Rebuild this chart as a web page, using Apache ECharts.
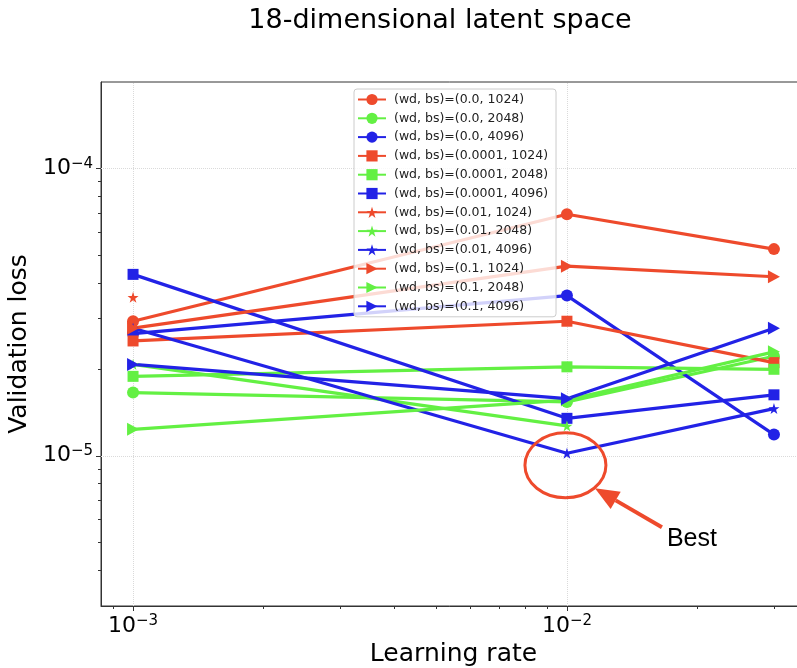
<!DOCTYPE html>
<html><head><meta charset="utf-8">
<script src="https://cdn.jsdelivr.net/npm/echarts@6/dist/echarts.min.js"></script>
<style>html,body{margin:0;padding:0;background:#fff}#c{width:797px;height:668px}</style>
</head><body><div id="c"></div>
<script>
// ---- data ----
const learningRates = [0.001, 0.01, 0.03];
const seriesNames = [
  '(wd, bs)=(0.0, 1024)', '(wd, bs)=(0.0, 2048)', '(wd, bs)=(0.0, 4096)',
  '(wd, bs)=(0.0001, 1024)', '(wd, bs)=(0.0001, 2048)', '(wd, bs)=(0.0001, 4096)',
  '(wd, bs)=(0.01, 1024)', '(wd, bs)=(0.01, 2048)', '(wd, bs)=(0.01, 4096)',
  '(wd, bs)=(0.1, 1024)', '(wd, bs)=(0.1, 2048)', '(wd, bs)=(0.1, 4096)'
];
const loss_wd0_bs1024    = [2.94e-5, 6.93e-5, 5.24e-5];
const loss_wd0_bs2048    = [1.66e-5, 1.54e-5, 2.22e-5];
const loss_wd0_bs4096    = [2.66e-5, 3.61e-5, 1.185e-5];
const loss_wd1e4_bs1024  = [2.51e-5, 2.94e-5, 2.11e-5];
const loss_wd1e4_bs2048  = [1.89e-5, 2.04e-5, 2.00e-5];
const loss_wd1e4_bs4096  = [4.28e-5, 1.35e-5, 1.63e-5];
const loss_wd1e2_bs1024  = [3.56e-5, null, null];
const loss_wd1e2_bs2048  = [2.08e-5, 1.27e-5, null];
const loss_wd1e2_bs4096  = [2.78e-5, 1.02e-5, 1.46e-5];
const loss_wd1e1_bs1024  = [2.78e-5, 4.57e-5, 4.20e-5];
const loss_wd1e1_bs2048  = [1.236e-5, 1.563e-5, 2.30e-5];
const loss_wd1e1_bs4096  = [2.08e-5, 1.58e-5, 2.78e-5];
const xMajorTicks = [1e-3, 1e-2];
const xMinorTicks = [9e-4, 2e-3, 3e-3, 4e-3, 5e-3, 6e-3, 7e-3, 8e-3, 9e-3, 2e-2, 3e-2];
const yMajorTicks = [1e-5, 1e-4];
const yMinorTicks = [4e-6, 5e-6, 6e-6, 7e-6, 8e-6, 9e-6, 2e-5, 3e-5, 4e-5, 5e-5, 6e-5, 7e-5, 8e-5, 9e-5];
const yLimits = [3e-6, 2e-4];
const titleText = '18-dimensional latent space';
const xName = 'Learning rate';
const yName = 'Validation loss';
const annotText = 'Best';

// ---- styling ----
const RED = '#ee4a2c', GREEN = '#63f043', BLUE = '#2222e6';
const STAR = 'path://M50,0L61.2,34.5L97.6,34.5L68.2,55.9L79.4,90.5L50,69.1L20.6,90.5L31.8,55.9L2.4,34.5L38.8,34.5Z';
const TRI_RIGHT = 'path://M0,0L10,5L0,10Z';
const markers = [
  {symbol: 'circle', size: 12}, {symbol: 'rect', size: 11},
  {symbol: STAR, size: 11}, {symbol: TRI_RIGHT, size: [12, 13]}
];
const colors = [RED, GREEN, BLUE];
const allLoss = [loss_wd0_bs1024, loss_wd0_bs2048, loss_wd0_bs4096,
  loss_wd1e4_bs1024, loss_wd1e4_bs2048, loss_wd1e4_bs4096,
  loss_wd1e2_bs1024, loss_wd1e2_bs2048, loss_wd1e2_bs4096,
  loss_wd1e1_bs1024, loss_wd1e1_bs2048, loss_wd1e1_bs4096];

const L = Math.log10;
const xlo = L(learningRates[0]), xhi = L(learningRates[learningRates.length - 1]);
const xpad = 0.05 * (xhi - xlo);
const xMin = xlo - xpad, xMax = xhi + xpad;
const yMin = L(yLimits[0]), yMax = L(yLimits[1]);

const FONT = 'DejaVu Sans';
const powLabel = v => {
  const e = Math.round(v);
  return '{b|10}{s|' + (e < 0 ? '\u2212' : '') + Math.abs(e) + '}';
};
const rich = {
  b: {fontSize: 22, fontFamily: FONT, color: '#000', lineHeight: 24},
  s: {fontSize: 15, fontFamily: FONT, color: '#000', lineHeight: 16, verticalAlign: 'top'}
};

const series = allLoss.map((vals, i) => {
  const m = markers[Math.floor(i / 3)];
  const c = colors[i % 3];
  return {
    type: 'line', name: seriesNames[i],
    data: learningRates.map((x, j) => vals[j] == null ? null : [L(x), L(vals[j])]).filter(Boolean),
    symbol: m.symbol, symbolSize: m.size, showSymbol: true,
    itemStyle: {color: c}, lineStyle: {color: c, width: 3.2},
    z: 3, animation: false, clip: false
  };
});
series.unshift({
  type: 'line', name: '_grid', data: [], z: 1, silent: true, animation: false,
  markLine: {
    silent: true, symbol: ['none', 'none'], label: {show: false}, z: 1, animation: false,
    lineStyle: {type: 'dotted', color: '#dadada', width: 1},
    data: [...xMajorTicks.map(v => ({xAxis: L(v)})), ...yMajorTicks.map(v => ({yAxis: L(v)}))]
  }
});

const axisColor = '#333';
const chart = echarts.init(document.getElementById('c'), null, {renderer: 'canvas'});
chart.setOption({
  animation: false,
  backgroundColor: '#fff',
  grid: {left: 101, top: 82, width: 705, height: 524, show: true, borderColor: axisColor, borderWidth: 1,
         backgroundColor: 'transparent', containLabel: false, outerBoundsMode: 'none'},
  xAxis: [
    {type: 'value', min: xMin, max: xMax, position: 'bottom',
     axisLine: {show: true, onZero: false, lineStyle: {color: axisColor, width: 1}},
     axisTick: {show: true, customValues: xMajorTicks.map(L), length: 5, lineStyle: {color: axisColor}},
     axisLabel: {show: true, customValues: xMajorTicks.map(L), formatter: powLabel, rich: rich, margin: 8},
     splitLine: {show: false},
     name: xName, nameLocation: 'middle', nameGap: 34,
     nameTextStyle: {fontSize: 25, fontFamily: FONT, color: '#000'}},
    {type: 'value', min: xMin, max: xMax, position: 'bottom',
     axisLine: {show: false, onZero: false},
     axisTick: {show: true, customValues: xMinorTicks.map(L), length: 3, lineStyle: {color: axisColor}},
     axisLabel: {show: false}, splitLine: {show: false}}
  ],
  yAxis: [
    {type: 'value', min: yMin, max: yMax, position: 'left',
     axisLine: {show: true, onZero: false, lineStyle: {color: axisColor, width: 1}},
     axisTick: {show: true, customValues: yMajorTicks.map(L), length: 5, lineStyle: {color: axisColor}},
     axisLabel: {show: true, customValues: yMajorTicks.map(L), formatter: powLabel, rich: rich, margin: 8},
     splitLine: {show: false},
     name: yName, nameLocation: 'middle', nameGap: 61, nameRotate: 90,
     nameTextStyle: {fontSize: 25, fontFamily: FONT, color: '#000'}},
    {type: 'value', min: yMin, max: yMax, position: 'left',
     axisLine: {show: false, onZero: false},
     axisTick: {show: true, customValues: yMinorTicks.map(L), length: 3, lineStyle: {color: axisColor}},
     axisLabel: {show: false}, splitLine: {show: false}}
  ],
  legend: {
    data: seriesNames, orient: 'vertical', left: 354, top: 89,
    itemWidth: 28, itemHeight: 14, itemGap: 5.8, padding: [4, 8, 4, 3],
    backgroundColor: 'rgba(255,255,255,0.8)', borderColor: '#cccccc', borderWidth: 1, borderRadius: 3,
    selectedMode: false,
    textStyle: {fontSize: 12.5, fontFamily: FONT, color: '#222', padding: [0, 0, 0, 3]}
  },
  series: series
});

// annotation anchored on the best point via the chart's own scales
const best = chart.convertToPixel({xAxisIndex: 0, yAxisIndex: 0}, [L(learningRates[1]), L(loss_wd1e2_bs4096[1])]);
const cx = best[0] - 1.5, cy = best[1] + 12;
const tip = [best[0] + 28, best[1] + 35];
const tail = [best[0] + 95, best[1] + 74];
const dx = tail[0] - tip[0], dy = tail[1] - tip[1], len = Math.hypot(dx, dy);
const ux = dx / len, uy = dy / len, px = -uy, py = ux;
const hl = 24, hw = 10;
const base = [tip[0] + ux * hl, tip[1] + uy * hl];
chart.setOption({
  graphic: [
    {type: 'text', x: 440, y: 21, z: 100,
     style: {text: titleText, fontSize: 27, fontFamily: FONT, fill: '#000', align: 'center', verticalAlign: 'middle'}},
    {type: 'ellipse', z: 100, shape: {cx: cx, cy: cy, rx: 40.5, ry: 32.5},
     style: {fill: 'none', stroke: RED, lineWidth: 3}},
    {type: 'line', z: 100, shape: {x1: base[0], y1: base[1], x2: tail[0], y2: tail[1]},
     style: {stroke: RED, lineWidth: 4}},
    {type: 'polygon', z: 100,
     shape: {points: [tip, [base[0] + px * hw, base[1] + py * hw], [base[0] - px * hw, base[1] - py * hw]]},
     style: {fill: RED}},
    {type: 'text', x: best[0] + 100, y: best[1] + 86, z: 100,
     style: {text: annotText, fontSize: 25, fontFamily: 'Liberation Sans', fill: '#000', align: 'left', verticalAlign: 'middle'}}
  ]
});
</script>
</body></html>
